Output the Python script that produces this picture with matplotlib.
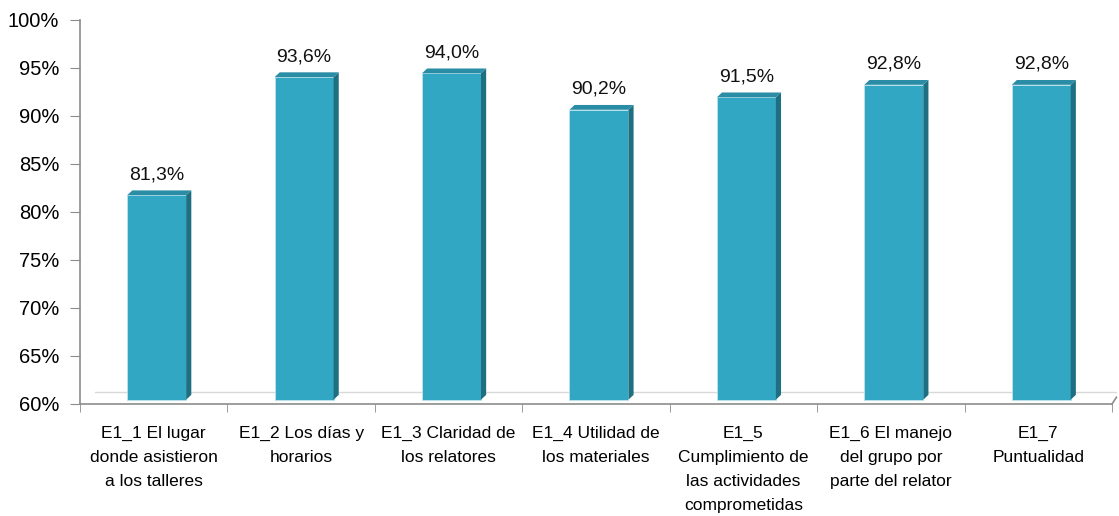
import numpy as np
import matplotlib.pyplot as plt
from matplotlib.patches import Polygon

plt.rcParams['font.family'] = ['Liberation Sans', 'DejaVu Sans']

categories = [
    'E1_1 El lugar\ndonde asistieron\na los talleres',
    'E1_2 Los días y\nhorarios',
    'E1_3 Claridad de\nlos relatores',
    'E1_4 Utilidad de\nlos materiales',
    'E1_5\nCumplimiento de\nlas actividades\ncomprometidas',
    'E1_6 El manejo\ndel grupo por\nparte del relator',
    'E1_7\nPuntualidad',
]
values = [81.3, 93.6, 94.0, 90.2, 91.5, 92.8, 92.8]
value_labels = ['81,3%', '93,6%', '94,0%', '90,2%', '91,5%', '92,8%', '92,8%']
yticks = [60, 65, 70, 75, 80, 85, 90, 95, 100]

front = '#31a7c4'
side = '#1f6f82'
top = '#2a8ca5'

fig = plt.figure(figsize=(11.19, 5.16), dpi=100)
ax = fig.add_axes([80 / 1119, 112 / 516, 1032 / 1119, 384 / 516])

n = len(values)
x = np.arange(n)
width = 0.40
shift = 0.02   # 3D projection shifts the front face a little
lift = 0.45    # ... and upwards
dx = 0.035     # depth offset in x units
dy = 0.5       # depth offset in y units
base = 60 + lift

# back wall floor line
ax.plot([-0.4, n - 0.47], [61.3, 61.3], color='#d9d9d9', lw=1, zorder=1, clip_on=False)

for xi, v in zip(x, values):
    x0, x1 = xi - width / 2 + shift, xi + width / 2 + shift
    vt = v + lift
    ax.add_patch(Polygon([(x0, base), (x1, base), (x1, vt), (x0, vt)],
                         closed=True, facecolor=front, edgecolor='#bfe3ec', lw=0.6, zorder=3))
    ax.add_patch(Polygon([(x1, base), (x1 + dx, base + dy), (x1 + dx, vt + dy), (x1, vt)],
                         closed=True, facecolor=side, edgecolor='none', zorder=3))
    ax.add_patch(Polygon([(x0, vt), (x1, vt), (x1 + dx, vt + dy), (x0 + dx, vt + dy)],
                         closed=True, facecolor=top, edgecolor='none', zorder=3))

for xi, v, lab in zip(x, values, value_labels):
    ax.text(xi + shift, v + lift + 1.25, lab, ha='center', va='bottom', fontsize=14, color='#111111')

ax.set_xlim(-0.5, n - 0.5)
ax.set_ylim(60, 100)
ax.set_yticks(yticks)
ax.set_yticklabels([f'{t}%' for t in yticks], fontsize=14.5)
ax.set_xticks(x)
ax.set_xticklabels(categories, fontsize=12.5, linespacing=1.74)
ax.tick_params(axis='x', length=0, pad=16)
ax.tick_params(axis='y', length=7, color='#8c8c8c', pad=8)

# category boundary ticks
ax.set_xticks(np.arange(-0.5, n, 1.0), minor=True)
ax.tick_params(axis='x', which='minor', length=6, color='#8c8c8c', direction='out')

for s in ['top', 'right']:
    ax.spines[s].set_visible(False)
for s in ['left', 'bottom']:
    ax.spines[s].set_color('#8c8c8c')
    ax.spines[s].set_linewidth(1.2)

# perspective edge at the right end of the floor
ax.plot([n - 0.5, n - 0.47], [60, 60.7], color='#8c8c8c', lw=1.2, clip_on=False)

plt.savefig('out.png', dpi=100)
